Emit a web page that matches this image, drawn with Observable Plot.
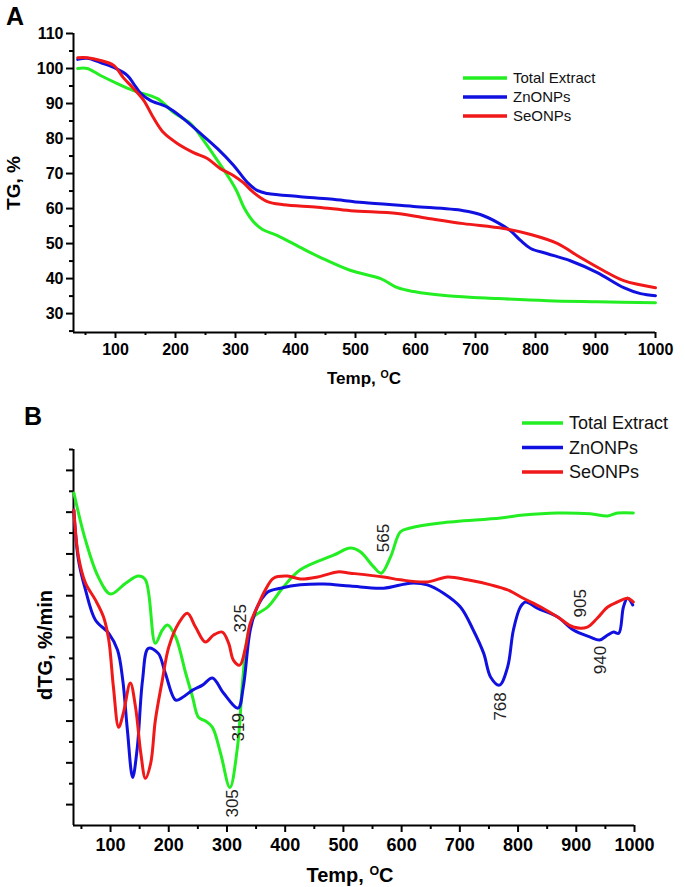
<!DOCTYPE html>
<html><head><meta charset="utf-8">
<script src="https://cdn.jsdelivr.net/npm/d3@7"></script>
<script src="https://cdn.jsdelivr.net/npm/@observablehq/plot@0.6"></script>
<style>
body{margin:0;background:#fff;}
#wrap{position:relative;width:685px;height:887px;overflow:hidden;background:#fff;}
#a{position:absolute;left:0;top:0;}
#b{position:absolute;left:0;top:400px;}
</style></head><body><div id="wrap"><div id="a"></div><div id="b"></div></div>
<script>
const FONT = "'Liberation Sans', Arial, sans-serif";
const series = ["Total Extract", "ZnONPs", "SeONPs"];
const colors = ["#22ee22", "#1010e0", "#f01818"];

// ---- Panel A : TG, % ----
const tgExtractT = [37,53,75,103,130,170,197,225,247,270,292,302,315,330,345,370,408,442,492,542,570,597,653,737,820,903,1000];
const tgExtractV = [100,100,98,95.7,93.7,91.4,87.4,84.3,79.4,73.7,68,65,60,56.2,54,52.3,48.9,46,42.3,40,37.4,36.3,35.1,34.3,33.7,33.4,33.1];
const tgZnT = [37,53,75,97,120,130,142,158,187,213,242,270,297,320,337,353,408,458,513,597,680,708,737,758,775,792,820,858,903,947,975,1000];
const tgZnV = [102.6,102.9,101.7,100.3,98,95.7,92.9,90.9,88.9,85.7,81.4,77.1,72.3,67.4,65.1,64.3,63.4,62.7,61.7,60.6,59.4,58.3,56,53.7,50.9,48.6,47.1,45.1,41.7,37.4,35.7,35.1];
const tgSeT = [37,53,75,97,113,130,147,163,180,203,230,253,275,297,313,330,353,380,437,492,570,625,680,747,792,837,875,913,947,1000];
const tgSeV = [103.1,103.1,102.3,100.9,97.4,94.3,90.9,86,81.7,78.6,76,74.3,71.4,69.4,67.4,64.6,62,61.1,60.4,59.4,58.6,57.1,55.7,54.3,52.6,50,46,42.3,39.4,37.4];

// ---- Panel B : dTG (arbitrary units) ----
const dtgExtractT = [37,57,79,100,126,148,160,177,189,198,212,229,241,251,263,275,289,305,318,327,335,346,370,397,426,483,512,529,552,565,581,598,615,667,770,809,868,924,954,971,998];
const dtgExtractV = [-0.54,-1.67,-2.55,-2.96,-2.70,-2.53,-2.62,-4.14,-3.82,-3.70,-3.99,-4.85,-5.43,-5.91,-6.0,-6.15,-6.77,-7.59,-6.63,-5.02,-3.99,-3.51,-3.27,-2.79,-2.38,-2.03,-1.86,-1.95,-2.31,-2.46,-2.07,-1.47,-1.38,-1.26,-1.14,-1.07,-1.02,-1.04,-1.09,-1.02,-1.02];
const dtgZnT = [37,45,57,74,97,112,121,129,138,146,155,165,182,194,212,224,241,258,275,294,319,328,340,352,370,392,426,466,512,569,615,644,672,701,723,741,753,768,782,792,804,813,833,868,895,924,940,954,964,973,981,988,997];
const dtgZnV = [-0.95,-2.15,-2.86,-3.58,-3.90,-4.30,-5.02,-6.22,-7.35,-6.63,-5.02,-4.26,-4.38,-4.85,-5.5,-5.43,-5.26,-5.14,-4.97,-5.33,-5.69,-5.19,-3.82,-3.27,-2.91,-2.82,-2.74,-2.72,-2.77,-2.82,-2.70,-2.74,-2.94,-3.27,-3.82,-4.38,-4.95,-5.14,-4.71,-3.82,-3.27,-3.15,-3.30,-3.51,-3.82,-3.99,-4.06,-3.94,-3.87,-3.90,-3.27,-3.06,-3.22];
const dtgSeT = [37,45,57,74,88,97,105,114,122,134,143,152,160,169,177,189,200,217,232,246,263,277,292,303,311,322,332,340,352,366,380,404,426,456,490,512,569,598,644,679,713,753,782,809,839,868,895,919,936,954,971,988,998];
const dtgSeV = [-0.95,-2.07,-2.70,-3.10,-3.51,-4.06,-5.19,-6.15,-5.81,-5.09,-5.67,-6.77,-7.37,-7.01,-5.98,-5.02,-4.23,-3.66,-3.42,-3.75,-4.11,-3.94,-3.87,-4.14,-4.54,-4.66,-4.23,-3.66,-3.27,-2.86,-2.58,-2.53,-2.60,-2.55,-2.43,-2.46,-2.55,-2.62,-2.67,-2.55,-2.62,-2.74,-2.86,-3.06,-3.27,-3.51,-3.75,-3.75,-3.54,-3.27,-3.15,-3.06,-3.15];

// peak annotations (panel B)
const peakLabels = ["325", "319", "305", "565", "768", "905", "940"];
const peakLabelT = [323, 320, 310, 569, 770, 907, 941];
const peakLabelV = [-3.54, -6.15, -7.97, -1.62, -5.65, -3.18, -4.54];

// ticks
const xMajor = [100,200,300,400,500,600,700,800,900,1000];
const xMinor = [50,150,250,350,450,550,650,750,850,950];
const aYMajor = [30,40,50,60,70,80,90,100,110];
const aYMinor = [25,35,45,55,65,75,85,95,105];
const bYMajor = [-8,-7,-6,-5,-4,-3,-2,-1,0];
const bYMinor = [-7.5,-6.5,-5.5,-4.5,-3.5,-2.5,-1.5,-0.5,0.5];

function rows(Ts, Vs, name) { return Ts.map((t, i) => ({T: t, v: Vs[i], s: name})); }
const rowsA = [...rows(tgExtractT, tgExtractV, series[0]), ...rows(tgZnT, tgZnV, series[1]), ...rows(tgSeT, tgSeV, series[2])];
const rowsB = [...rows(dtgExtractT, dtgExtractV, series[0]), ...rows(dtgZnT, dtgZnV, series[1]), ...rows(dtgSeT, dtgSeV, series[2])];
const peaks = peakLabels.map((t, i) => ({t, T: peakLabelT[i], v: peakLabelV[i]}));

const fmt = d => String(d);

const plotA = Plot.plot({
  width: 685, height: 400,
  marginLeft: 73, marginRight: 30, marginTop: 33, marginBottom: 68,
  x: {domain: [30, 1000]},
  y: {domain: [24.6, 110]},
  color: {domain: series, range: colors},
  style: {fontFamily: FONT, fontWeight: "bold", background: "white", color: "black"},
  marks: [
    Plot.axisX({ticks: xMajor, tickSize: 6, strokeWidth: 2, fontSize: 16, tickPadding: 5, tickFormat: fmt, label: null}),
    Plot.axisX({ticks: xMinor, tickSize: 3, strokeWidth: 2, tickFormat: () => "", label: null}),
    Plot.axisY({ticks: aYMajor, tickSize: 7, strokeWidth: 2, fontSize: 16, tickPadding: 3, tickFormat: fmt, label: null}),
    Plot.axisY({ticks: aYMinor, tickSize: 4, strokeWidth: 2, tickFormat: () => "", label: null}),
    Plot.ruleX([30], {strokeWidth: 2}),
    Plot.ruleY([24.6], {strokeWidth: 2}),
    Plot.line(rowsA, {x: "T", y: "v", z: "s", stroke: "s", strokeWidth: 3, curve: "catmull-rom"})
  ]
});

const plotB = Plot.plot({
  width: 685, height: 487,
  marginLeft: 73, marginRight: 51, marginTop: 49, marginBottom: 62,
  x: {domain: [36.4, 1000]},
  y: {domain: [-8.5, 0.5]},
  color: {domain: series, range: colors},
  style: {fontFamily: FONT, fontWeight: "bold", background: "white", color: "black"},
  marks: [
    Plot.axisX({ticks: xMajor, tickSize: 7, strokeWidth: 2, fontSize: 18, tickPadding: 6, tickFormat: fmt, label: null}),
    Plot.axisX({ticks: xMinor, tickSize: 4, strokeWidth: 2, tickFormat: () => "", label: null}),
    Plot.axisY({ticks: bYMajor, tickSize: 7, strokeWidth: 2, tickFormat: () => "", label: null}),
    Plot.axisY({ticks: bYMinor, tickSize: 4, strokeWidth: 2, tickFormat: () => "", label: null}),
    Plot.ruleX([36.4], {strokeWidth: 2}),
    Plot.ruleY([-8.5], {strokeWidth: 2}),
    Plot.line(rowsB, {x: "T", y: "v", z: "s", stroke: "s", strokeWidth: 3, curve: "catmull-rom"}),
    Plot.text(peaks, {x: "T", y: "v", text: "t", rotate: -90, fontSize: 17, fontWeight: "normal", fill: "#222"})
  ]
});

document.getElementById("a").appendChild(plotA);
document.getElementById("b").appendChild(plotB);

function decorate(svgNode, o) {
  const svg = d3.select(svgNode);
  // panel letter
  svg.append("text").attr("x", o.letterX).attr("y", o.letterY).attr("text-anchor", "start")
    .attr("font-family", FONT).attr("font-weight", "bold").attr("font-size", 25).text(o.letter);
  // y title
  svg.append("text").attr("transform", `translate(${o.yTitleX},${o.yTitleY}) rotate(-90)`)
    .attr("text-anchor", "middle").attr("dominant-baseline", "central")
    .attr("font-family", FONT).attr("font-weight", "bold").attr("font-size", o.yTitleSize).text(o.yTitle);
  // x title with superscript O
  const xt = svg.append("text").attr("x", o.xTitleX).attr("y", o.xTitleY)
    .attr("text-anchor", "middle")
    .attr("font-family", FONT).attr("font-weight", "bold").attr("font-size", o.xTitleSize);
  xt.append("tspan").text("Temp, ");
  xt.append("tspan").attr("font-size", "0.62em").attr("dy", "-0.55em").text("O");
  xt.append("tspan").attr("dy", "0.34em").text("C");
  // legend
  series.forEach((name, i) => {
    const y = o.legY + i * o.legStep;
    svg.append("line").attr("x1", o.legX).attr("x2", o.legX + o.legLen).attr("y1", y).attr("y2", y)
      .attr("stroke", colors[i]).attr("stroke-width", 3.5);
    svg.append("text").attr("x", o.legX + o.legLen + 6).attr("y", y).attr("dy", "0.36em")
      .attr("text-anchor", "start")
      .attr("font-family", FONT).attr("font-weight", "normal").attr("font-size", o.legSize)
      .attr("fill", "#111").text(name);
  });
}

decorate(plotA, {letter: "A", letterX: 6, letterY: 25,
  yTitle: "TG, %", yTitleX: 13, yTitleY: 183, yTitleSize: 19,
  xTitleX: 364, xTitleY: 384, xTitleSize: 17,
  legX: 463, legY: 78, legStep: 19, legLen: 44, legSize: 15});
decorate(plotB, {letter: "B", letterX: 24, letterY: 25,
  yTitle: "dTG, %/min", yTitleX: 45, yTitleY: 245, yTitleSize: 20,
  xTitleX: 350, xTitleY: 482, xTitleSize: 20,
  legX: 522, legY: 23, legStep: 24.5, legLen: 41, legSize: 18});
</script>
</body></html>
